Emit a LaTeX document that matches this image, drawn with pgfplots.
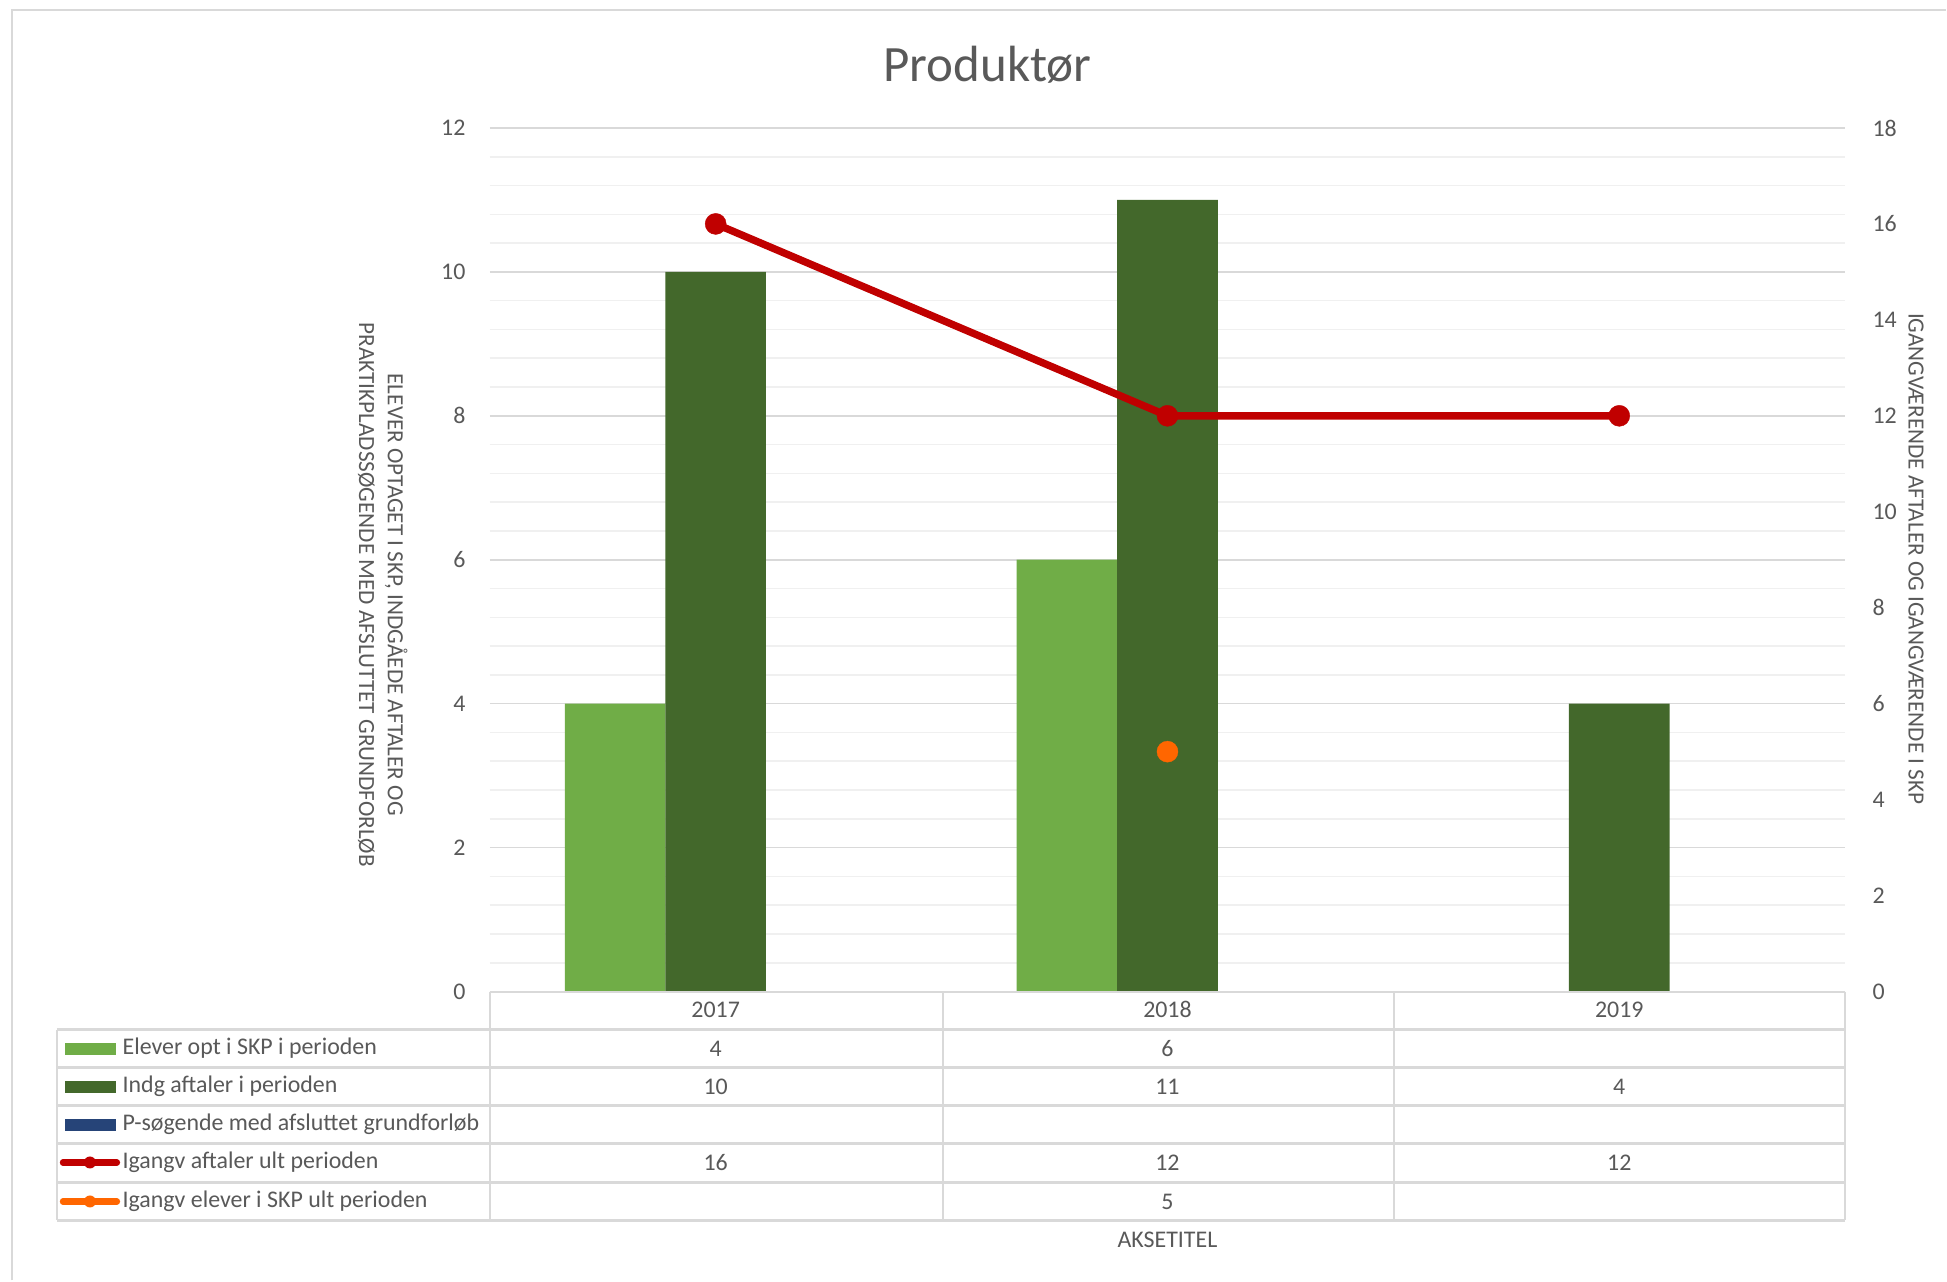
\documentclass[border=0pt]{standalone}
\usepackage{fontspec}
\setmainfont{Carlito}
\usepackage{pgfplots}
\pgfplotsset{compat=1.18}

\definecolor{txt}{HTML}{595959}
\definecolor{gridmaj}{HTML}{D9D9D9}
\definecolor{gridmin}{HTML}{F0F0F0}
\definecolor{bord}{HTML}{D9D9D9}
\definecolor{lgreen}{HTML}{70AD47}
\definecolor{dgreen}{HTML}{43682B}
\definecolor{pblue}{HTML}{264478}
\definecolor{dred}{HTML}{C00000}
\definecolor{orng}{HTML}{FF6600}

\newcommand{\tabfont}{\fontsize{6.8}{8}\selectfont}

\begin{document}
\begin{tikzpicture}
% page frame, 1 unit = one pixel of the reference
\begin{scope}[x=0.1mm,y=-0.1mm]
  \fill[white] (0,0) rectangle (1947,1281);
  \draw[bord, line width=0.5pt] (12,1281) -- (12,10) -- (1947,10);
  \node[txt, font=\fontsize{14.5}{16}\selectfont] at (988,65) {Produktør};
  \node[txt, rotate=-90, align=center, font=\fontsize{6.6}{8.2}\selectfont]
    at (383,595) {ELEVER OPTAGET I SKP, INDGÅEDE AFTALER OG\\PRAKTIKPLADSSØGENDE MED AFSLUTTET GRUNDFORLØB};
  \node[txt, rotate=-90, font=\fontsize{6.6}{8.2}\selectfont]
    at (1917,559) {IGANGVÆRENDE AFTALER OG IGANGVÆRENDE I SKP};
\end{scope}

\begin{axis}[
  at={(49mm,-99.2mm)}, anchor=south west,
  scale only axis, width=135.6mm, height=86.4mm,
  xmin=-0.5, xmax=2.5, ymin=0, ymax=12,
  xtick={0,1,2}, xticklabels={2017,2018,2019},
  ytick={0,2,...,12}, minor y tick num=4,
  ymajorgrids, yminorgrids,
  major grid style={gridmaj, line width=0.45pt},
  minor grid style={gridmin, line width=0.45pt},
  axis line style={draw=none},
  tick style={draw=none},
  tick label style={font=\tabfont, text=txt},
  /pgf/number format/assume math mode=true,
  yticklabel style={xshift=-1.2mm},
  xticklabel style={anchor=center, yshift=-1.8mm},
]
% Elever opt i SKP i perioden
\addplot[ybar, bar width=0.2226, bar shift=-0.2226, fill=lgreen, draw=none]
  coordinates {(0,4) (1,6)};
% Indg aftaler i perioden
\addplot[ybar, bar width=0.2226, bar shift=0, fill=dgreen, draw=none]
  coordinates {(0,10) (1,11) (2,4)};
\end{axis}

\begin{axis}[
  at={(49mm,-99.2mm)}, anchor=south west,
  scale only axis, width=135.6mm, height=86.4mm,
  xmin=-0.5, xmax=2.5, ymin=0, ymax=18,
  axis x line=none, axis y line*=right,
  ytick={0,2,...,18},
  axis line style={draw=none},
  tick style={draw=none},
  tick label style={font=\tabfont, text=txt},
  /pgf/number format/assume math mode=true,
  yticklabel style={xshift=1.5mm},
]
% Igangv aftaler ult perioden
\addplot[dred, line width=2.1pt, mark=*, mark size=3pt,
  mark options={line width=0.1pt}]
  coordinates {(0,16) (1,12) (2,12)};
% Igangv elever i SKP ult perioden
\addplot[only marks, orng, mark=*, mark size=3pt,
  mark options={line width=0.1pt}]
  coordinates {(1,5)};
\end{axis}

% data table
\begin{scope}[x=0.1mm,y=-0.1mm, font=\tabfont]
  \draw[bord, line width=0.6pt] (490,992) -- (1846,992);
  \foreach \yy in {1030,1068,1106,1144,1183,1221}
    \draw[bord, line width=0.6pt] (57,\yy) -- (1846,\yy);
  \draw[bord, line width=0.6pt] (57,1030) -- (57,1221);
  \foreach \xx in {490,943,1395,1846}
    \draw[bord, line width=0.6pt] (\xx,992) -- (\xx,1221);
  % keys
  \fill[lgreen] (65,1043) rectangle (116,1055);
  \fill[dgreen] (65,1081) rectangle (116,1093);
  \fill[pblue] (65,1119) rectangle (116,1131);
  \draw[dred, line width=1.8pt, line cap=round] (63,1163) -- (117,1163);
  \fill[dred] (90,1163) circle (6);
  \draw[orng, line width=1.8pt, line cap=round] (63,1202) -- (117,1202);
  \fill[orng] (90,1202) circle (6);
  % labels
  \node[txt, anchor=west, inner sep=0] at (122,1049) {Elever opt i SKP i perioden};
  \node[txt, anchor=west, inner sep=0] at (122,1087) {Indg aftaler i perioden};
  \node[txt, anchor=west, inner sep=0] at (122,1125) {P-søgende med afsluttet grundforløb};
  \node[txt, anchor=west, inner sep=0] at (122,1163) {Igangv aftaler ult perioden};
  \node[txt, anchor=west, inner sep=0] at (122,1202) {Igangv elever i SKP ult perioden};
  % values
  \node[txt] at (716,1049) {4};
  \node[txt] at (1168,1049) {6};
  \node[txt] at (716,1087) {10};
  \node[txt] at (1168,1087) {11};
  \node[txt] at (1620,1087) {4};
  \node[txt] at (716,1163) {16};
  \node[txt] at (1168,1163) {12};
  \node[txt] at (1620,1163) {12};
  \node[txt] at (1168,1202) {5};
  \node[txt] at (1168,1240) {AKSETITEL};
\end{scope}
\end{tikzpicture}
\end{document}
